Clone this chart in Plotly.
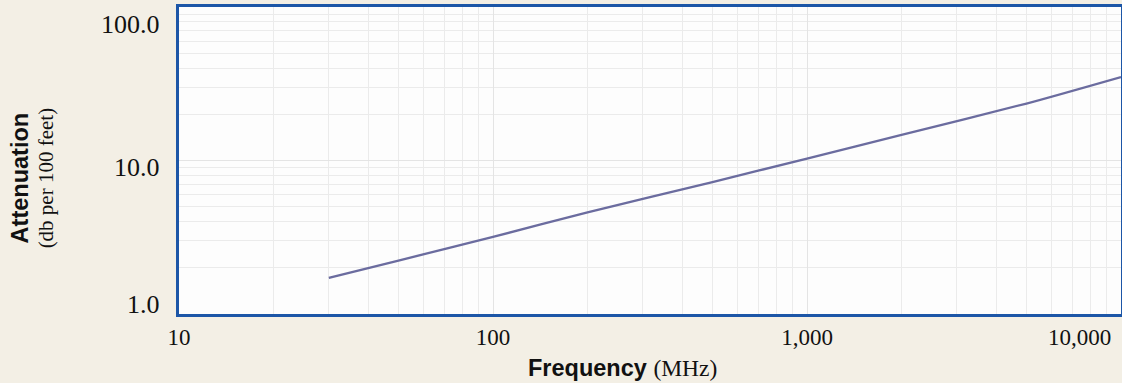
import plotly.graph_objects as go
import math

# Data
frequency_mhz = [30, 50, 100, 200, 500, 1000, 2000, 5000, 10000]
attenuation_db = [1.72, 2.23, 3.18, 4.59, 7.24, 10.3, 14.7, 23.5, 35.0]

x_tick_vals = [10, 100, 1000, 10000]
x_tick_text = ["10", "100", "1,000", "10,000"]
y_tick_vals = [1, 10, 100]
y_tick_text = ["1.0", "10.0", "100.0"]

# vertical nudges of the y labels, as printed in the original (px)
y_label_nudge = [10, -7, -17]

PAPER = "#f3efe5"
BORDER = "#1c56a7"
LINE = "#6b6c9f"
GRID = "#e4e4e4"
MINOR_GRID = "#ebebeb"
SERIF = "Liberation Serif"
SANS = "Liberation Sans"
TXT = "#111111"

fig = go.Figure()
fig.add_trace(go.Scatter(
    x=frequency_mhz, y=attenuation_db, mode="lines",
    line=dict(color=LINE, width=2.3, shape="spline", smoothing=0.6),
    hoverinfo="skip", showlegend=False,
))

fig.update_layout(
    width=1122, height=383,
    margin=dict(l=179, r=1, t=7, b=69),
    paper_bgcolor=PAPER, plot_bgcolor="#fdfdfd",
    showlegend=False,
)

fig.update_xaxes(
    type="log", range=[math.log10(x_tick_vals[0]), math.log10(x_tick_vals[-1])],
    tickvals=x_tick_vals[:-1], ticktext=x_tick_text[:-1],
    tickfont=dict(family=SERIF, size=23, color=TXT),
    ticks="", ticklabelstandoff=0,
    showgrid=True, gridcolor=GRID, gridwidth=1.2,
    minor=dict(dtick="D1", showgrid=True, gridcolor=MINOR_GRID, gridwidth=1),
    showline=True, linecolor=BORDER, linewidth=3, mirror=True,
    zeroline=False, automargin=False,
)
fig.update_yaxes(
    type="log", range=[math.log10(y_tick_vals[0]), math.log10(y_tick_vals[-1])],
    tickvals=y_tick_vals, showticklabels=False,
    ticks="",
    showgrid=True, gridcolor=GRID, gridwidth=1.2,
    minor=dict(dtick="D1", showgrid=True, gridcolor=MINOR_GRID, gridwidth=1),
    showline=True, linecolor=BORDER, linewidth=3, mirror=True,
    zeroline=False, automargin=False,
)

# y tick labels
for v, t, dy in zip(y_tick_vals, y_tick_text, y_label_nudge):
    fig.add_annotation(
        x=0, xref="paper", y=math.log10(v), yref="y",
        text=t, showarrow=False, xanchor="right", yanchor="middle",
        xshift=-17, yshift=dy,
        font=dict(family=SERIF, size=26, color=TXT),
    )

# last x tick label kept inside the figure, right-aligned at the axis end
fig.add_annotation(
    x=math.log10(x_tick_vals[-1]), xref="x", y=0, yref="paper",
    text=x_tick_text[-1], showarrow=False,
    xanchor="right", yanchor="top", xshift=-8, yshift=-9,
    font=dict(family=SERIF, size=23, color=TXT),
)

# axis titles
fig.add_annotation(
    x=0.471, y=-0.176, xref="paper", yref="paper",
    text="<b>Frequency</b> <span style='font-family:Liberation Serif'>(MHz)</span>",
    showarrow=False, xanchor="center", yanchor="middle",
    font=dict(family=SANS, size=23.5, color=TXT),
)
fig.add_annotation(
    x=-0.1688, y=0.445, xref="paper", yref="paper",
    text="<b>Attenuation</b>", textangle=-90,
    showarrow=False, xanchor="center", yanchor="middle",
    font=dict(family=SANS, size=23.5, color=TXT),
)
fig.add_annotation(
    x=-0.1412, y=0.445, xref="paper", yref="paper",
    text="(db per 100 feet)", textangle=-90,
    showarrow=False, xanchor="center", yanchor="middle",
    font=dict(family=SERIF, size=21, color=TXT),
)

fig.write_html(
    "out.html",
    config={"displayModeBar": False},
    post_script="document.body.style.margin='0';document.body.style.overflow='hidden';",
)
